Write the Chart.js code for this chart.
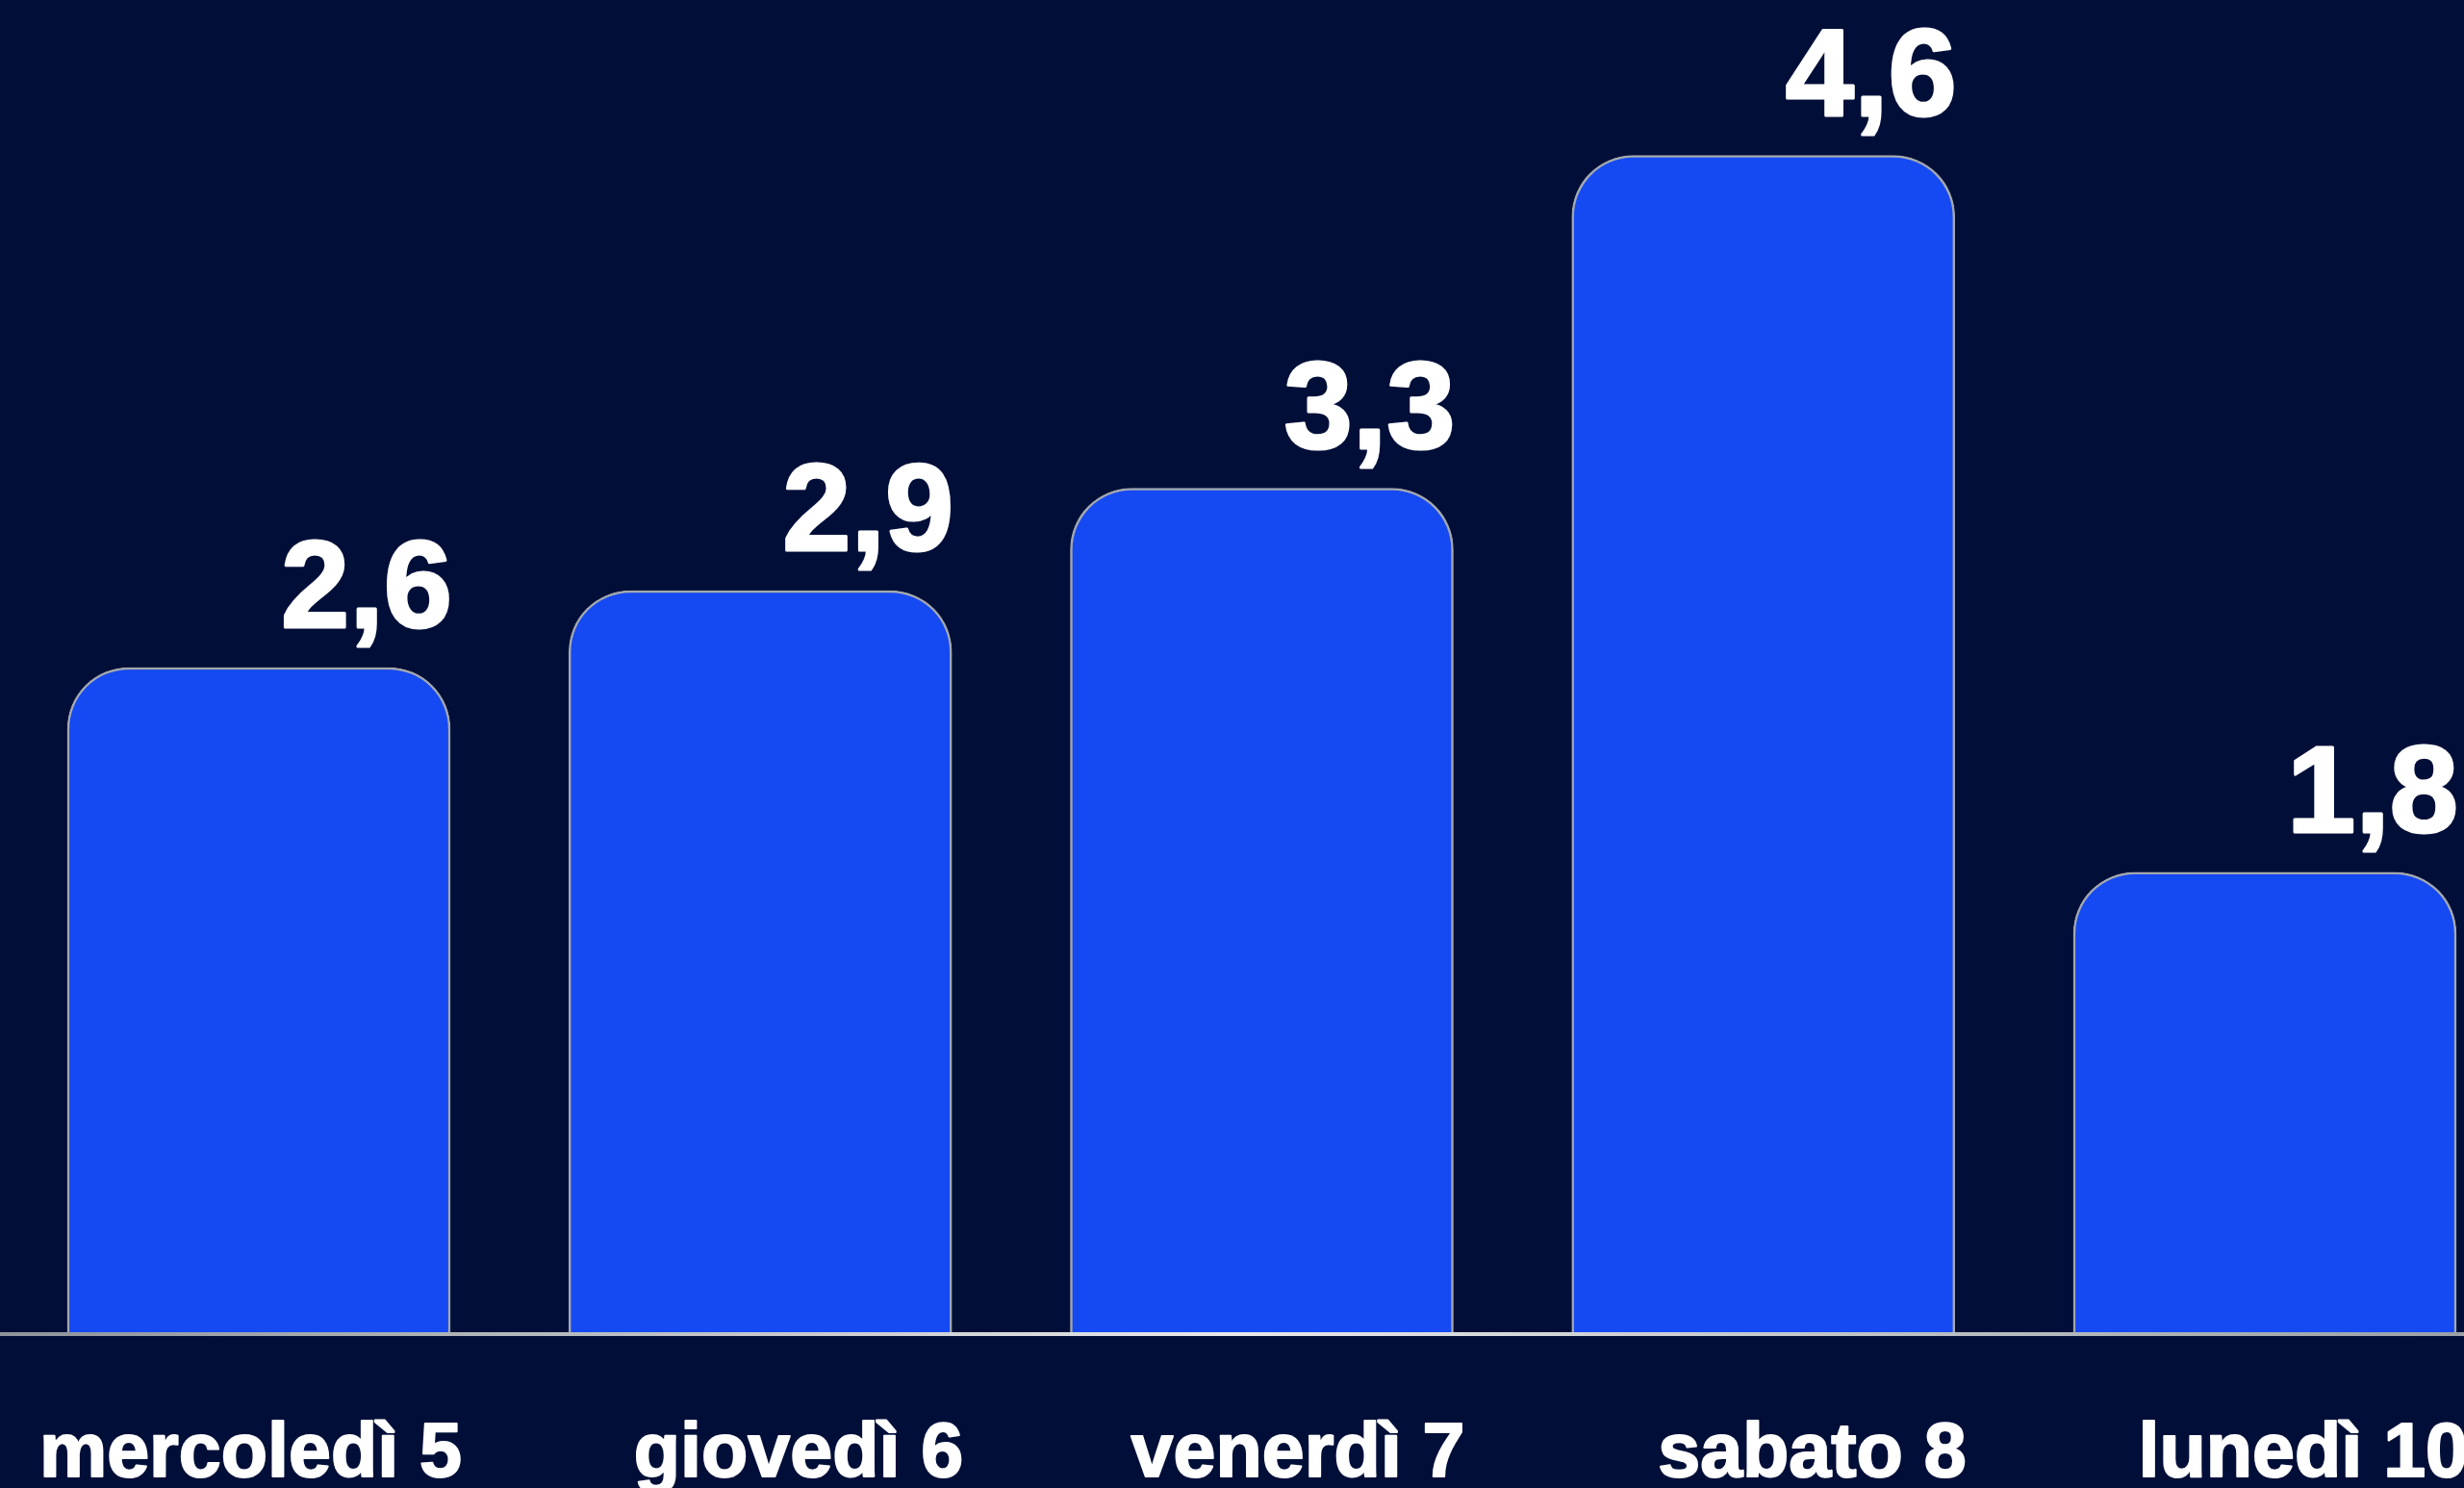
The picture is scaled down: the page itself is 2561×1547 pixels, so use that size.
<!DOCTYPE html>
<html><head><meta charset="utf-8">
<script src="https://cdn.jsdelivr.net/npm/chart.js@4.4.1/dist/chart.umd.min.js"></script>
<style>html,body{margin:0;padding:0;background:#010f38;overflow:hidden}#wrap{width:2561px;height:1547px;position:relative}</style>
</head><body><div id="wrap"><canvas id="c" width="2561" height="1547"></canvas></div>
<script>
const categories = ['mercoledì 5', 'giovedì 6', 'venerdì 7', 'sabato 8', 'lunedì 10'];
const values = [2.6, 2.9, 3.3, 4.6, 1.8];
const valueLabels = ['2,6', '2,9', '3,3', '4,6', '1,8'];
const yMin = 0, yMax = 5.2;

const labelsPlugin = {
  id: 'labelsPlugin',
  afterDatasetsDraw(chart) {
    const ctx = chart.ctx;
    const meta = chart.getDatasetMeta(0);
    const y0 = chart.scales.y.getPixelForValue(0);
    ctx.save();
    const g = ctx.createLinearGradient(0, 0, chart.width, 0);
    g.addColorStop(0, '#8e949b');
    g.addColorStop(0.5, '#e6e8ea');
    g.addColorStop(1, '#9aa0a6');
    ctx.strokeStyle = g;
    ctx.lineWidth = 4;
    ctx.beginPath();
    ctx.moveTo(0, y0 + 1);
    ctx.lineTo(chart.width, y0 + 1);
    ctx.stroke();
    ctx.fillStyle = '#ffffff';
    ctx.strokeStyle = '#ffffff';
    ctx.lineJoin = 'round';
    ctx.textAlign = 'right';
    ctx.textBaseline = 'alphabetic';
    meta.data.forEach((bar, i) => {
      const right = bar.x + bar.width / 2;
      ctx.font = 'bold 128px "Liberation Sans", Arial, sans-serif';
      ctx.lineWidth = 3;
      ctx.fillText(valueLabels[i], right + 2, bar.y - 42);
      ctx.strokeText(valueLabels[i], right + 2, bar.y - 42);
      ctx.font = 'bold 79px "Liberation Sans", Arial, sans-serif';
      ctx.lineWidth = 2;
      ctx.fillText(categories[i], right + 12, y0 + 149);
      ctx.strokeText(categories[i], right + 12, y0 + 149);
    });
    ctx.restore();
  }
};

new Chart(document.getElementById('c'), {
  type: 'bar',
  data: {
    labels: categories,
    datasets: [{
      data: values,
      backgroundColor: '#1549f2',
      borderColor: '#a3a8ae',
      borderWidth: 2.5,
      borderSkipped: 'bottom',
      borderRadius: {topLeft: 64, topRight: 64, bottomLeft: 0, bottomRight: 0},
      barThickness: 398,
      clip: false
    }]
  },
  options: {
    responsive: false,
    animation: false,
    devicePixelRatio: 1,
    layout: {padding: {left: 269, right: 207, top: 2, bottom: 161}},
    plugins: {legend: {display: false}, tooltip: {enabled: false}},
    scales: {
      x: {type: 'category', offset: false, display: false, grid: {display: false}},
      y: {min: yMin, max: yMax, display: false, grid: {display: false}}
    }
  },
  plugins: [labelsPlugin]
});
</script>
</body></html>
